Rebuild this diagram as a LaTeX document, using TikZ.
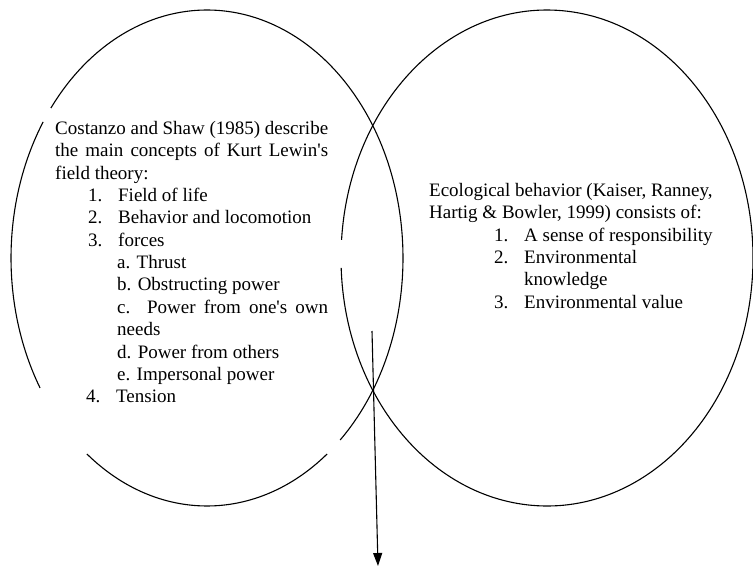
\documentclass[tikz,border=0pt]{standalone}
\usepackage{fontspec}
\setmainfont{Liberation Serif}
\usetikzlibrary{arrows.meta}
\newcommand{\txtfont}{\fontsize{19}{22.3}\selectfont}
\newcommand{\numitem}[2]{\makebox[30pt][l]{#1}#2}
\begin{document}
\begin{tikzpicture}[x=1pt,y=-1pt,
  txt/.style={anchor=base west, inner sep=0pt, font=\txtfont},
  ring/.style={line width=1.1pt, draw=black},
  conn/.style={line width=1.1pt, draw=black, -{Triangle[length=13pt,width=9pt]}}]
\useasboundingbox (0,0) rectangle (753,568);

% left ellipse (drawn in pieces, as in the scan)
\draw[ring] (207,258) ++(47.2:196 and 248) arc[start angle=47.2, end angle=-142.8, x radius=196, y radius=248];
\draw[ring] (207,258) ++(-146.7:196 and 248) arc[start angle=-146.7, end angle=-211.6, x radius=196, y radius=248];
\draw[ring] (207,258) ++(127.8:196 and 248) arc[start angle=127.8, end angle=52.2, x radius=196, y radius=248];

% right ellipse
\draw[ring] (547,258) ++(-175.8:206 and 248) arc[start angle=-175.8, end angle=177.7, x radius=206, y radius=248];

% left text block
\node[txt] (l1) at (55,134.5) {\makebox[273pt][s]{Costanzo and Shaw (1985) describe}};
\node[txt] (l2) at (55,156.85) {\makebox[273pt][s]{the main concepts of Kurt Lewin\textquotesingle s}};
\node[txt] (l3) at (55,179.2) {field theory:};
\node[txt] (l4) at (88,201.55) {\numitem{1.}{Field of life}};
\node[txt] (l5) at (88,223.9) {\numitem{2.}{Behavior and locomotion}};
\node[txt] (l6) at (88,246.25) {\numitem{3.}{forces}};
\node[txt] (l7) at (117,268.6) {a. Thrust};
\node[txt] (l8) at (117,290.95) {b. Obstructing power};
\node[txt] (l9) at (117,313.3) {\makebox[211pt][s]{c. Power from one\textquotesingle s own}};
\node[txt] (l10) at (117,335.65) {needs};
\node[txt] (l11) at (117,358.0) {d. Power from others};
\node[txt] (l12) at (117,380.35) {e. Impersonal power};
\node[txt] (l13) at (86,402.7) {\numitem{4.}{Tension}};

% right text block
\node[txt] (r1) at (429,196.5) {Ecological behavior (Kaiser, Ranney,};
\node[txt] (r2) at (429,218.8) {Hartig \& Bowler, 1999) consists of:};
\node[txt] (r3) at (494,241.1) {\numitem{1.}{A sense of responsibility}};
\node[txt] (r4) at (494,263.4) {\numitem{2.}{Environmental}};
\node[txt] (r5) at (524,285.7) {knowledge};
\node[txt] (r6) at (494,308.0) {\numitem{3.}{Environmental value}};

% arrow out of the overlap
\coordinate (arrowtop) at (372,331);
\coordinate (arrowtip) at (378,566);
\draw[conn] (arrowtop) -- (arrowtip);
\end{tikzpicture}
\end{document}
